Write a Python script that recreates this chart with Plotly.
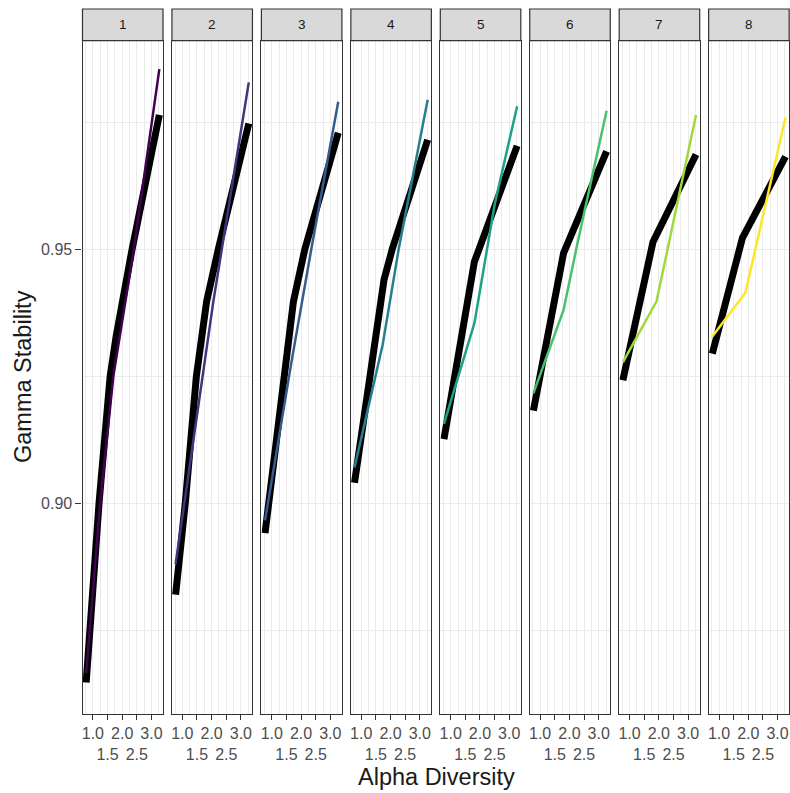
import plotly.graph_objects as go

# Facet labels and the viridis colour for each facet
facets = ["1", "2", "3", "4", "5", "6", "7", "8"]
colors = ["#440154", "#46337E", "#365C8D", "#277F8E",
          "#1FA187", "#4AC16D", "#9FDA3A", "#FDE725"]

# Fitted relationship (thick black line) per facet
fit_x = [
    [0.77, 1.21, 1.59, 1.80, 2.34, 3.27],
    [0.77, 1.10, 1.48, 1.83, 2.23, 3.27],
    [0.77, 1.40, 1.74, 2.13, 3.27],
    [0.77, 1.28, 1.78, 2.06, 3.27],
    [0.77, 1.81, 3.27],
    [0.77, 1.80, 3.27],
    [0.77, 1.80, 3.27],
    [0.77, 1.80, 3.27],
]
fit_y = [
    [0.8647, 0.9000, 0.9250, 0.9330, 0.9500, 0.9764],
    [0.8820, 0.9000, 0.9250, 0.9397, 0.9500, 0.9747],
    [0.8941, 0.9250, 0.9397, 0.9500, 0.9729],
    [0.9040, 0.9250, 0.9440, 0.9500, 0.9715],
    [0.9126, 0.9475, 0.9703],
    [0.9182, 0.9492, 0.9692],
    [0.9242, 0.9514, 0.9686],
    [0.9294, 0.9522, 0.9682],
]

# Observed relationship (thin coloured line) per facet
obs_x = [
    [0.77, 1.25, 1.70, 2.40, 3.27],
    [0.77, 2.06, 3.27],
    [0.77, 1.67, 2.35, 3.27],
    [0.77, 1.73, 2.28, 3.27],
    [0.77, 1.81, 2.50, 3.27],
    [0.77, 1.80, 2.27, 3.27],
    [0.77, 1.92, 3.27],
    [0.77, 1.90, 3.27],
]
obs_y = [
    [0.8665, 0.9000, 0.9250, 0.9500, 0.9854],
    [0.8880, 0.9397, 0.9828],
    [0.8966, 0.9277, 0.9500, 0.9790],
    [0.9070, 0.9311, 0.9500, 0.9794],
    [0.9156, 0.9354, 0.9587, 0.9781],
    [0.9216, 0.9380, 0.9510, 0.9772],
    [0.9277, 0.9397, 0.9764],
    [0.9328, 0.9414, 0.9759],
]

# Axis breaks (x labels alternate between two rows)
x_ticks = [1.0, 1.5, 2.0, 2.5, 3.0]
x_tick_labels = ["1.0", "<br>1.5", "2.0", "<br>2.5", "3.0"]
x_minor = [0.75, 1.25, 1.75, 2.25, 2.75, 3.25]
y_ticks = [0.90, 0.95]
y_tick_labels = ["0.90", "0.95"]
y_minor = [0.875, 0.925, 0.975]
x_range = [0.645, 3.395]
y_range = [0.8585, 0.9910]

W, H = 790, 793
FONT = "Liberation Sans, Arial, sans-serif"
panel_left0, panel_step, panel_w = 82.5, 89.45, 80.5
panel_top, panel_bottom = 40.7, 714.0
strip_top = 9.0

fig = go.Figure()
ydom = [1 - panel_bottom / H, 1 - panel_top / H]
n = len(facets)

for i in range(n):
    k = i + 1
    xa = "x" if k == 1 else f"x{k}"
    ya = "y" if k == 1 else f"y{k}"
    fig.add_trace(go.Scatter(x=fit_x[i], y=fit_y[i], mode="lines",
                             line=dict(color="black", width=7),
                             xaxis=xa, yaxis=ya, showlegend=False,
                             hoverinfo="skip"))
    fig.add_trace(go.Scatter(x=obs_x[i], y=obs_y[i], mode="lines",
                             line=dict(color=colors[i], width=2.5),
                             xaxis=xa, yaxis=ya, showlegend=False,
                             hoverinfo="skip"))

layout = dict(
    width=W, height=H,
    margin=dict(l=0, r=0, t=0, b=0),
    paper_bgcolor="white", plot_bgcolor="white",
    font=dict(family=FONT),
    showlegend=False,
)

tick_font = dict(family=FONT, size=16, color="#4d4d4d")
shapes = []
annotations = []

for i in range(n):
    k = i + 1
    left = panel_left0 + i * panel_step
    xdom = [left / W, (left + panel_w) / W]
    xkey = "xaxis" if k == 1 else f"xaxis{k}"
    ykey = "yaxis" if k == 1 else f"yaxis{k}"
    yname = "y" if k == 1 else f"y{k}"
    xname = "x" if k == 1 else f"x{k}"

    layout[xkey] = dict(
        domain=xdom, anchor=yname, range=x_range,
        tickmode="array", tickvals=x_ticks, ticktext=x_tick_labels,
        tickangle=0,
        ticks="outside", ticklen=5, tickwidth=1, tickcolor="#333333",
        tickfont=tick_font,
        showgrid=True, gridcolor="#ebebeb", gridwidth=1,
        minor=dict(tickmode="array", tickvals=x_minor, showgrid=True,
                   gridcolor="#ebebeb", gridwidth=0.6, ticks=""),
        showline=True, linecolor="#333333", linewidth=1.2, mirror=True,
        zeroline=False, fixedrange=True,
    )
    layout[ykey] = dict(
        domain=ydom, anchor=xname, range=y_range,
        tickmode="array", tickvals=y_ticks, ticktext=y_tick_labels,
        showticklabels=(k == 1),
        ticks="outside" if k == 1 else "", ticklen=6, tickwidth=1,
        tickcolor="#333333", tickfont=tick_font,
        showgrid=True, gridcolor="#ebebeb", gridwidth=1,
        minor=dict(tickmode="array", tickvals=y_minor, showgrid=True,
                   gridcolor="#ebebeb", gridwidth=0.6, ticks=""),
        showline=True, linecolor="#333333", linewidth=1.2, mirror=True,
        zeroline=False, fixedrange=True,
    )
    # facet strip
    shapes.append(dict(type="rect", xref="paper", yref="paper",
                       x0=xdom[0], x1=xdom[1],
                       y0=1 - panel_top / H, y1=1 - strip_top / H,
                       fillcolor="#d9d9d9",
                       line=dict(color="#333333", width=1.2)))
    annotations.append(dict(text=facets[i], xref="paper", yref="paper",
                            x=(xdom[0] + xdom[1]) / 2,
                            y=1 - (strip_top + panel_top) / 2 / H,
                            xanchor="center", yanchor="middle",
                            showarrow=False,
                            font=dict(family=FONT, size=13.5, color="#1a1a1a")))

annotations.append(dict(text="Alpha Diversity", xref="paper", yref="paper",
                        x=436 / W, y=1 - 777 / H, xanchor="center",
                        yanchor="middle", showarrow=False,
                        font=dict(family=FONT, size=23.5, color="#1a1a1a")))
annotations.append(dict(text="Gamma Stability", xref="paper", yref="paper",
                        x=23 / W, y=1 - 377 / H, xanchor="center",
                        yanchor="middle", textangle=-90, showarrow=False,
                        font=dict(family=FONT, size=23.5, color="#1a1a1a")))

layout["shapes"] = shapes
layout["annotations"] = annotations
fig.update_layout(**layout)

fig.write_html("out.html")
